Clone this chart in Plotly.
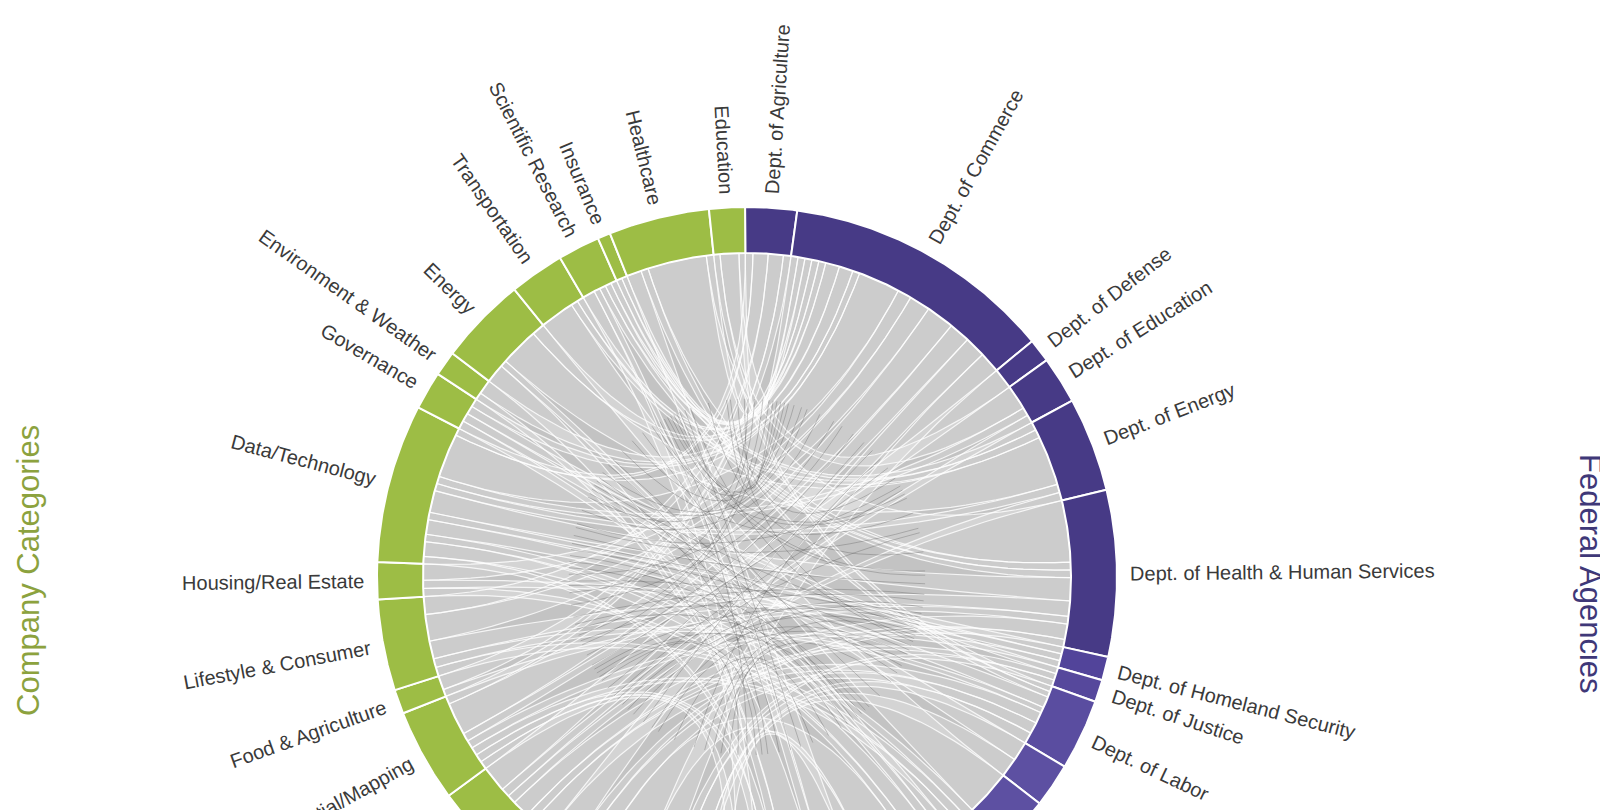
import math
import plotly.graph_objects as go

# ---------------- data ----------------
agencies = ["Dept. of Agriculture", "Dept. of Commerce", "Dept. of Defense", "Dept. of Education",
            "Dept. of Energy", "Dept. of Health & Human Services", "Dept. of Homeland Security",
            "Dept. of Justice", "Dept. of Labor", "Dept. of State", "Dept. of Transportation",
            "Dept. of the Treasury", "Dept. of Veterans Affairs", "Environmental Protection Agency", "NASA"]
agency_values = [8.1, 42.5, 3.7, 7.4, 14.8, 26.1, 3.7, 3.5, 11.1, 6.9, 13.1, 19.0, 5.0, 13.0, 6.0]

companies = ["Business & Legal", "Finance & Investment", "Research & Consulting", "Geospatial/Mapping",
             "Food & Agriculture", "Lifestyle & Consumer", "Housing/Real Estate", "Data/Technology",
             "Governance", "Environment & Weather", "Energy", "Transportation", "Scientific Research",
             "Insurance", "Healthcare", "Education"]
company_values = [16.0, 18.0, 15.7, 14.6, 3.8, 14.3, 5.8, 24.9, 6.0, 3.9, 13.8, 8.6, 6.6, 2.0, 15.8, 5.6]

link_company = ["Education", "Education", "Education",
                "Healthcare", "Healthcare", "Healthcare", "Healthcare",
                "Insurance", "Insurance",
                "Scientific Research", "Scientific Research", "Scientific Research", "Scientific Research", "Scientific Research",
                "Transportation", "Transportation", "Transportation",
                "Energy", "Energy", "Energy", "Energy",
                "Environment & Weather", "Environment & Weather",
                "Governance", "Governance", "Governance", "Governance",
                "Data/Technology", "Data/Technology", "Data/Technology", "Data/Technology", "Data/Technology",
                "Data/Technology", "Data/Technology", "Data/Technology", "Data/Technology", "Data/Technology",
                "Housing/Real Estate", "Housing/Real Estate", "Housing/Real Estate",
                "Lifestyle & Consumer", "Lifestyle & Consumer", "Lifestyle & Consumer", "Lifestyle & Consumer", "Lifestyle & Consumer",
                "Food & Agriculture", "Food & Agriculture",
                "Geospatial/Mapping", "Geospatial/Mapping", "Geospatial/Mapping", "Geospatial/Mapping",
                "Geospatial/Mapping", "Geospatial/Mapping", "Geospatial/Mapping",
                "Research & Consulting", "Research & Consulting", "Research & Consulting", "Research & Consulting",
                "Research & Consulting", "Research & Consulting",
                "Finance & Investment", "Finance & Investment", "Finance & Investment", "Finance & Investment",
                "Business & Legal", "Business & Legal", "Business & Legal", "Business & Legal", "Business & Legal"]
link_agency = ["Dept. of Education", "Dept. of Commerce", "Dept. of Labor",
               "Dept. of Health & Human Services", "Dept. of Veterans Affairs", "Dept. of Commerce", "Dept. of Labor",
               "Dept. of Health & Human Services", "Dept. of Commerce",
               "NASA", "Dept. of Commerce", "Dept. of Health & Human Services", "Dept. of Energy", "Environmental Protection Agency",
               "Dept. of Transportation", "Dept. of Commerce", "Dept. of Energy",
               "Dept. of Energy", "Environmental Protection Agency", "Dept. of Commerce", "Dept. of the Treasury",
               "Dept. of Commerce", "Environmental Protection Agency",
               "Dept. of Commerce", "Dept. of the Treasury", "Dept. of Justice", "Dept. of State",
               "Dept. of Commerce", "Dept. of Health & Human Services", "Dept. of Labor", "Dept. of the Treasury", "Dept. of Energy",
               "Dept. of Agriculture", "Dept. of Education", "Dept. of Homeland Security", "Dept. of Transportation", "Environmental Protection Agency",
               "Dept. of Commerce", "Dept. of the Treasury", "Dept. of Homeland Security",
               "Dept. of Commerce", "Dept. of Agriculture", "Dept. of Health & Human Services", "Dept. of Transportation", "Dept. of Labor",
               "Dept. of Agriculture", "Dept. of Health & Human Services",
               "Dept. of Commerce", "Dept. of Agriculture", "Dept. of Defense", "Dept. of Transportation",
               "Environmental Protection Agency", "NASA", "Dept. of Homeland Security",
               "Dept. of Commerce", "Dept. of Health & Human Services", "Dept. of Labor", "Dept. of Energy",
               "Dept. of Education", "Dept. of Justice",
               "Dept. of the Treasury", "Dept. of Commerce", "Dept. of Labor", "Dept. of Health & Human Services",
               "Dept. of Commerce", "Dept. of Justice", "Dept. of Labor", "Dept. of the Treasury", "Dept. of State"]
link_weight = [3, 1, 1,
               8, 2, 1, 1,
               1, 1,
               2, 1, 1, 1, 1,
               5, 1, 1,
               6, 3, 2, 1,
               2, 1,
               1, 1, 1, 1,
               6, 3, 2, 2, 1,
               1, 1, 1, 1, 1,
               2, 1, 1,
               3, 2, 2, 1, 1,
               2, 1,
               4, 1, 1, 1,
               1, 1, 1,
               3, 2, 2, 1,
               1, 1,
               5, 3, 2, 1,
               3, 1, 2, 2, 1]

# ---------------- geometry / style ----------------
W, H = 1608, 810
PAGE_OFF = 8            # default body margin of the html page
CX, CY = 747, H - 577   # centre in page pixels (y flipped)
R_OUT, R_IN = 370, 324
START = -0.3
GREEN = "#9dbd45"
PURPLES = ["#473a86"] * 6 + ["#52449a", "#56489c", "#5a4da0", "#5d50a2"] + ["#5d50a2"] * 5

groups = agencies + companies
values = agency_values + company_values
total = sum(values)
spans, starts = [], []
a = START
for v in values:
    s = v * 360.0 / total
    starts.append(a)
    spans.append(s)
    a += s
mid = [starts[i] + spans[i] / 2 for i in range(len(groups))]
colors = PURPLES + [GREEN] * len(companies)


def pt(theta, rad):
    t = math.radians(theta)
    return CX + rad * math.sin(t), CY + rad * math.cos(t)


def arc(a0, a1, rad):
    n = max(3, int(abs(a1 - a0) * 3))
    return [pt(a0 + (a1 - a0) * k / n, rad) for k in range(n + 1)]


fig = go.Figure()

# gray disk
disk = arc(0, 360, R_IN)
fig.add_trace(go.Scatter(x=[p[0] for p in disk], y=[p[1] for p in disk], mode="lines",
                         fill="toself", fillcolor="#c3c3c3", line=dict(width=0), hoverinfo="skip"))

# allocate sub-arcs for chords
idx = {g: i for i, g in enumerate(groups)}
ends = {}
for gi in range(len(groups)):
    mine = []
    for li in range(len(link_weight)):
        if idx[link_company[li]] == gi:
            mine.append((li, idx[link_agency[li]]))
        elif idx[link_agency[li]] == gi:
            mine.append((li, idx[link_company[li]]))
    if not mine:
        continue
    mine.sort(key=lambda p: -((mid[p[1]] - mid[gi]) % 360))
    tot = sum(link_weight[li] for li, _ in mine)
    a = starts[gi]
    for li, other in mine:
        w = link_weight[li] / tot * spans[gi]
        ends[(li, gi)] = (a, a + w)
        a += w


def bez(p0, p2, n=40, inc_start=False):
    out = []
    for k in range(0 if inc_start else 1, n + (1 if inc_start else 0)):
        t = k / n
        x = (1 - t) ** 2 * p0[0] + 2 * (1 - t) * t * CX + t * t * p2[0]
        y = (1 - t) ** 2 * p0[1] + 2 * (1 - t) * t * CY + t * t * p2[1]
        out.append((x, y))
    return out


spine_x, spine_y = [], []
for li in range(len(link_weight)):
    ci, ai = idx[link_company[li]], idx[link_agency[li]]
    s0, s1 = ends[(li, ci)]
    t0, t1 = ends[(li, ai)]
    pts = arc(s0, s1, R_IN)
    pts += bez(pts[-1], pt(t0, R_IN))
    ta = arc(t0, t1, R_IN)
    pts += ta
    pts += bez(ta[-1], pts[0])
    pts.append(pts[0])
    fig.add_trace(go.Scatter(x=[p[0] for p in pts], y=[p[1] for p in pts], mode="lines",
                             fill="toself", fillcolor="rgba(255,255,255,0.16)",
                             line=dict(color="rgba(255,255,255,0.8)", width=1.2), hoverinfo="skip"))
    sp = bez(pt((s0 + s1) / 2, R_IN * 0.55), pt((t0 + t1) / 2, R_IN * 0.55), n=30, inc_start=True)
    spine_x += [p[0] for p in sp] + [None]
    spine_y += [p[1] for p in sp] + [None]

fig.add_trace(go.Scatter(x=spine_x, y=spine_y, mode="lines",
                         line=dict(color="rgba(70,70,70,0.28)", width=1), hoverinfo="skip"))

# outer ring segments
for i in range(len(groups)):
    outer = arc(starts[i], starts[i] + spans[i], R_OUT)
    inner = arc(starts[i] + spans[i], starts[i], R_IN)
    poly = outer + inner + [outer[0]]
    fig.add_trace(go.Scatter(x=[p[0] for p in poly], y=[p[1] for p in poly], mode="lines",
                             fill="toself", fillcolor=colors[i], line=dict(color="white", width=2),
                             hoverinfo="skip"))

# labels
AW = {' ': 278, '.': 278, '/': 278, '&': 667, 'i': 222, 'l': 222, 'j': 222, 'f': 278, 't': 278,
      'r': 333, 'm': 833, 'w': 722, 'c': 500, 'k': 500, 's': 500, 'v': 500, 'x': 500, 'y': 500,
      'z': 500, 'A': 667, 'B': 667, 'C': 722, 'D': 722, 'E': 667, 'F': 611, 'G': 778, 'H': 722,
      'I': 278, 'L': 556, 'M': 833, 'N': 722, 'O': 778, 'P': 667, 'R': 722, 'S': 667, 'T': 611,
      'V': 667, 'W': 944}
FS = 20


def tw(s):
    return sum(AW.get(ch, 556 if ch.islower() else 667) for ch in s) * FS / 1000.0


annotations = []
for i, g in enumerate(groups):
    th = mid[i] % 360
    w = tw(g)
    rc = R_OUT + 13 + w / 2
    x, y = pt(th, rc)
    ang = th - 90 if th < 180 else th - 270
    annotations.append(dict(x=x, y=y, text=g, showarrow=False, textangle=ang,
                            xanchor="center", yanchor="middle",
                            font=dict(family="Liberation Sans, Arial", size=FS, color="#3a3a3a")))

annotations.append(dict(x=28, y=H - 571, text="Company Categories", showarrow=False, textangle=-90,
                        xanchor="center", yanchor="middle",
                        font=dict(family="Liberation Sans, Arial", size=31, color="#8ca23e")))
annotations.append(dict(x=1591, y=H - 574, text="Federal Agencies", showarrow=False, textangle=90,
                        xanchor="center", yanchor="middle",
                        font=dict(family="Liberation Sans, Arial", size=31, color="#3f3878")))

fig.update_layout(width=W, height=H, margin=dict(l=0, r=0, t=0, b=0),
                  paper_bgcolor="white", plot_bgcolor="white", showlegend=False,
                  xaxis=dict(range=[PAGE_OFF, W + PAGE_OFF], visible=False, fixedrange=True),
                  yaxis=dict(range=[-PAGE_OFF, H - PAGE_OFF], visible=False, fixedrange=True),
                  annotations=annotations)

fig.write_html("out.html")
